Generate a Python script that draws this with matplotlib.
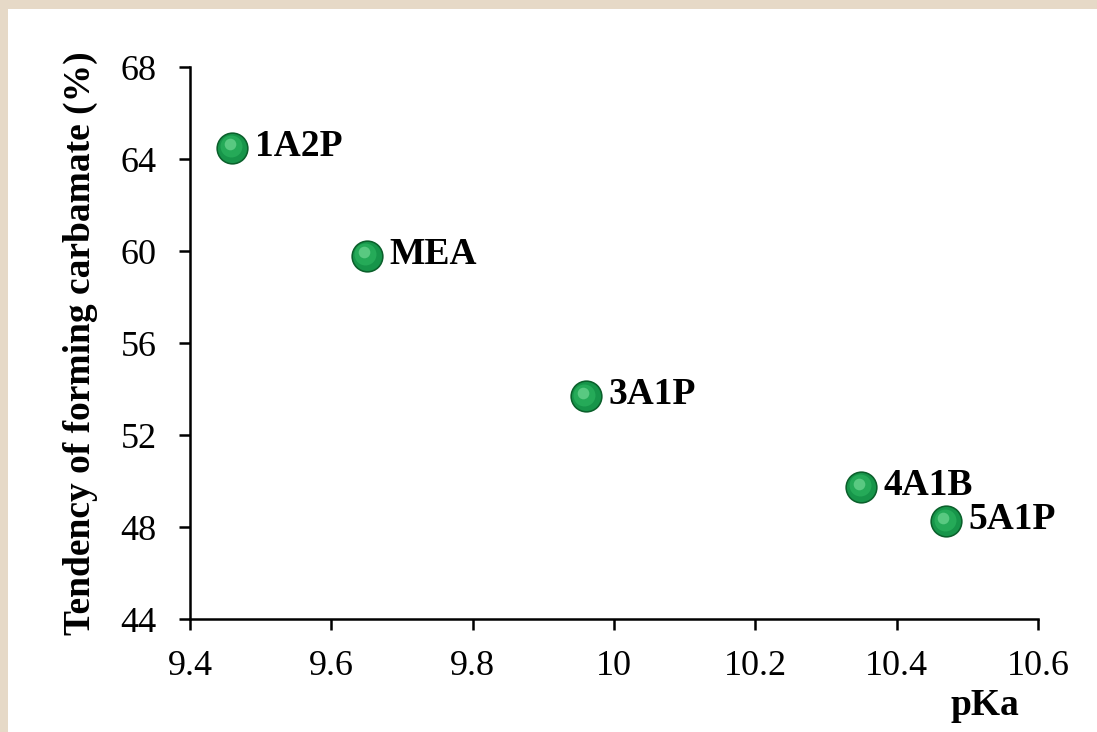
import matplotlib.pyplot as plt
from matplotlib.patches import Rectangle

plt.rcParams['font.family'] = ['Liberation Serif', 'DejaVu Serif']

amines = ['1A2P', 'MEA', '3A1P', '4A1B', '5A1P']
pka = [9.46, 9.65, 9.96, 10.35, 10.47]
carbamate = [64.5, 59.8, 53.7, 49.75, 48.25]

xticks = [9.4, 9.6, 9.8, 10.0, 10.2, 10.4, 10.6]
xtick_labels = ['9.4', '9.6', '9.8', '10', '10.2', '10.4', '10.6']
yticks = [44, 48, 52, 56, 60, 64, 68]

fig = plt.figure(figsize=(10.97, 7.32), dpi=100)
fig.patch.set_facecolor('#e6d9c7')
# white panel inside the beige frame (drawn below the axes)
fig.patches.append(Rectangle((8 / 1097, 0), 1, 1 - 9 / 732, transform=fig.transFigure,
                             facecolor='white', edgecolor='none', zorder=-1))

ax = fig.add_axes([190 / 1097, 1 - 619 / 732, 848 / 1097, 552 / 732])
ax.set_facecolor('none')

# sphere-like markers: dark rim, green body, soft highlight
ax.scatter(pka, carbamate, s=540, color='#0b5f2b', zorder=3, linewidths=0)
ax.scatter(pka, carbamate, s=440, color='#17954a', zorder=4, linewidths=0)
ax.scatter([p - 0.002 for p in pka], [c + 0.06 for c in carbamate], s=250,
           color='#2bb35e', zorder=5, linewidths=0, alpha=0.7)
ax.scatter([p - 0.004 for p in pka], [c + 0.14 for c in carbamate], s=70,
           color='#7ddf9e', zorder=6, linewidths=0, alpha=0.6)

for name, x, y in zip(amines, pka, carbamate):
    ax.annotate(name, (x, y), xytext=(16, 1), textcoords='offset points',
                va='center', ha='left', fontsize=27, fontweight='bold')

ax.set_xlim(9.4, 10.6)
ax.set_ylim(44, 68)
ax.set_xticks(xticks)
ax.set_xticklabels(xtick_labels)
ax.set_yticks(yticks)
ax.tick_params(labelsize=26, length=8, width=1.8, direction='out')
ax.tick_params(axis='x', pad=14)
ax.tick_params(axis='y', pad=16)
for side in ['top', 'right']:
    ax.spines[side].set_visible(False)
for side in ['left', 'bottom']:
    ax.spines[side].set_linewidth(1.8)

ax.set_ylabel('Tendency of forming carbamate (%)', fontsize=27, fontweight='bold')
ax.yaxis.set_label_coords(-0.1085, 0.5)
ax.set_xlabel('pKa', fontsize=27, fontweight='bold')
ax.xaxis.set_label_coords(0.9375, -0.125)

fig.savefig('out.png', dpi=100)
